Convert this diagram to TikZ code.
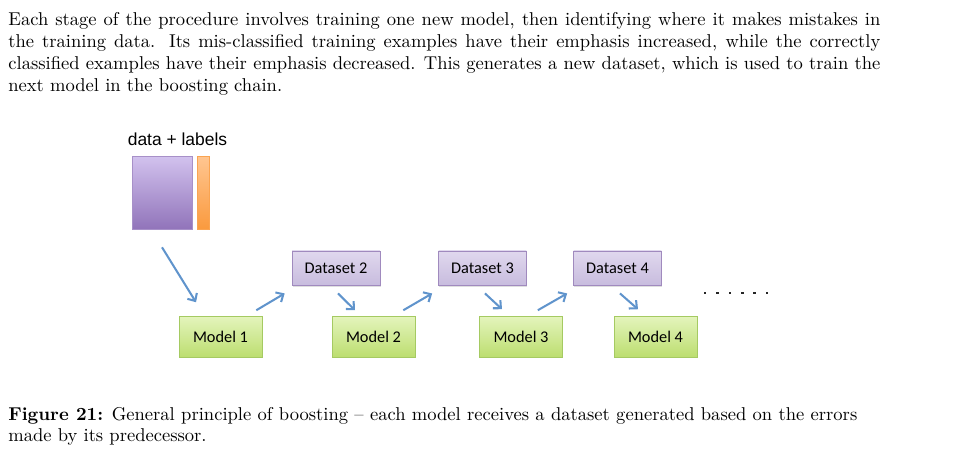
\documentclass[tikz,border=0pt]{standalone}
\usepackage{fontspec}
\newfontfamily\carlito{Carlito}
\newfontfamily\arialf{Liberation Sans}
\usetikzlibrary{arrows.meta,calc,shadows}
\definecolor{dstop}{RGB}{224,216,238}
\definecolor{dsbot}{RGB}{200,188,222}
\definecolor{dsborder}{RGB}{160,138,190}
\definecolor{mtop}{RGB}{228,244,188}
\definecolor{mbot}{RGB}{188,222,112}
\definecolor{mborder}{RGB}{165,202,98}
\definecolor{datatop}{RGB}{210,194,238}
\definecolor{databot}{RGB}{145,116,186}
\definecolor{labtop}{RGB}{255,198,145}
\definecolor{labbot}{RGB}{250,154,62}
\definecolor{arrowblue}{RGB}{96,148,204}
\tikzset{
  boxshadow/.style={drop shadow={opacity=0.25,shadow xshift=0.5pt,shadow yshift=-0.8pt}},
  dset/.style={draw=dsborder, line width=0.4pt, top color=dstop, bottom color=dsbot,
    minimum width=47.4pt, minimum height=18.4pt, inner sep=0pt,
    font=\carlito\fontsize{8.8}{10}\selectfont, boxshadow},
  model/.style={draw=mborder, line width=0.4pt, top color=mtop, bottom color=mbot,
    minimum width=44.7pt, minimum height=22pt, inner sep=0pt,
    font=\carlito\fontsize{8.8}{10}\selectfont, boxshadow},
  flow/.style={draw=arrowblue, line width=1.1pt, -{Straight Barb[length=3.2pt,width=6pt]}},
  para/.style={anchor=base west, inner sep=0pt, font=\normalsize},
}
\newcommand{\lowtext}[1]{\raisebox{-0.8pt}{#1}}
\newcommand{\lowertext}[1]{\raisebox{-0.5pt}{#1}}
\begin{document}
\begin{tikzpicture}[x=0.539pt,y=-0.539pt]
\useasboundingbox (0,0) rectangle (953,456);
% paragraph
\node[para] (p1) at (8,25) {\makebox[470pt][s]{Each stage of the procedure involves training one new model, then identifying where it makes mistakes in}};
\node[para] (p2) at (8,47.3) {\makebox[470pt][s]{the training data.  Its mis-classified training examples have their emphasis increased, while the correctly}};
\node[para] (p3) at (8,69.5) {\makebox[470pt][s]{classified examples have their emphasis decreased.  This generates a new dataset, which is used to train the}};
\node[para] (p4) at (8,91.8) {next model in the boosting chain.};
% data + labels
\node[anchor=base, inner sep=0pt, font=\arialf\fontsize{9.4}{11}\selectfont] (lbl) at (177.5,145) {data + labels};
\node[draw=databot!80, line width=0.3pt, top color=datatop, bottom color=databot, minimum width=60*0.539pt, minimum height=73*0.539pt, inner sep=0pt, boxshadow] (data) at (162,192.5) {};
\node[draw=labbot!90, line width=0.3pt, top color=labtop, bottom color=labbot, minimum width=12*0.539pt, minimum height=73*0.539pt, inner sep=0pt, boxshadow] (labels) at (203,192.5) {};
% datasets and models
\node[dset] (d2) at (336,268) {\lowertext{Dataset 2}};
\node[dset] (d3) at (482.5,268) {\lowertext{Dataset 3}};
\node[dset] (d4) at (617.5,268) {\lowertext{Dataset 4}};
\node[model] (m1) at (220.5,336.5) {\lowtext{Model 1}};
\node[model] (m2) at (373.5,336.5) {\lowtext{Model 2}};
\node[model] (m3) at (521,336.5) {\lowtext{Model 3}};
\node[model] (m4) at (655.5,336.5) {\lowtext{Model 4}};
% arrows
\draw[flow] ($(data.south)+(0,18)$) -- ($(m1.north)+(-24.5,-13.5)$);
\draw[flow] ($(m1.north east)+(-6,-5.5)$) -- ($(d2.south west)+(-7,8)$);
\draw[flow] ($(d2.south)+(2,8)$) -- ($(m2.north)+(-18.5,-5.5)$);
\draw[flow] ($(m2.north east)+(-12,-5.5)$) -- ($(d3.south west)+(-6,8)$);
\draw[flow] ($(d3.south)+(2.5,8)$) -- ($(m3.north)+(-19,-6.5)$);
\draw[flow] ($(m3.north east)+(-25,-5.5)$) -- ($(d4.south west)+(-6,8)$);
\draw[flow] ($(d4.south)+(2.5,8)$) -- ($(m4.north)+(-17.5,-6.5)$);
% dots
\foreach \i in {0,...,5} {
  \fill[black!85] ({705+12.4*\i-1.3},291.7) rectangle ++(2.6,2.6);
}
% caption
\node[para] (c1) at (8,420) {\makebox[457.6pt][s]{\textbf{Figure 21:} General principle of boosting -- each model receives a dataset generated based on the errors}};
\node[para] (c2) at (8,441.7) {made by its predecessor.};
\end{tikzpicture}
\end{document}
